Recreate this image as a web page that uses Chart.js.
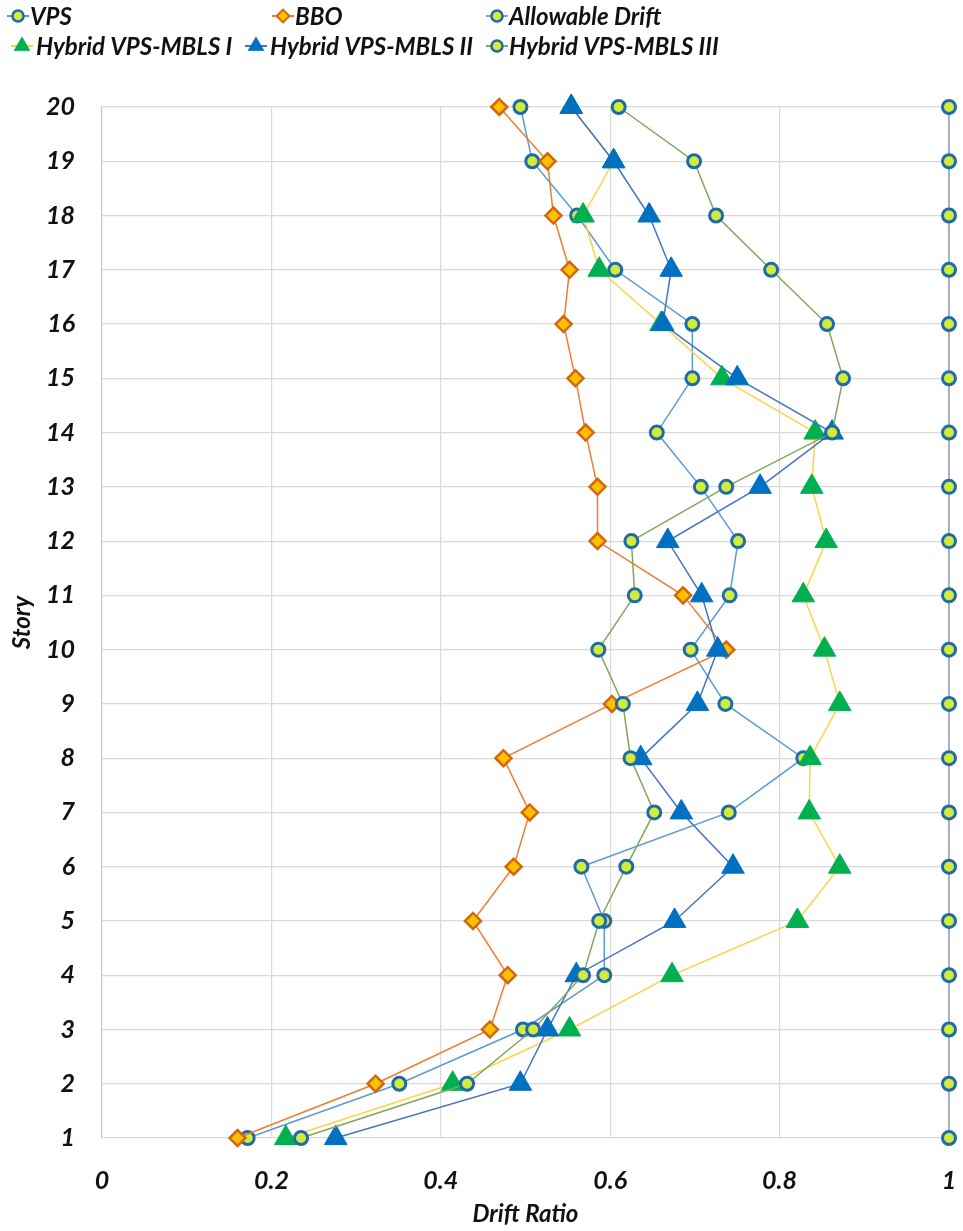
<!DOCTYPE html>
<html>
<head>
<meta charset="utf-8">
<script src="https://cdn.jsdelivr.net/npm/chart.js@4.4.1/dist/chart.umd.min.js"></script>
<style>
  html, body { margin: 0; padding: 0; background: #fff; }
  #wrap { width: 963px; height: 1231px; position: relative; }
</style>
</head>
<body>
<div id="wrap"><canvas id="driftChart" width="963" height="1231"></canvas></div>
<script>
// story numbers (y) and drift ratios
const stories = [1, 2, 3, 4, 5, 6, 7, 8, 9, 10, 11, 12, 13, 14, 15, 16, 17, 18, 19, 20];
const vps = [0.172, 0.351, 0.497, 0.593, 0.593, 0.566, 0.740, 0.828, 0.736, 0.695,
             0.741, 0.751, 0.707, 0.655, 0.697, 0.697, 0.606, 0.561, 0.508, 0.494];
const bbo = [0.160, 0.323, 0.458, 0.479, 0.438, 0.486, 0.505, 0.474, 0.602, 0.737,
             0.686, 0.585, 0.585, 0.571, 0.559, 0.545, 0.552, 0.533, 0.526, 0.469];
const allowable = [1, 1, 1, 1, 1, 1, 1, 1, 1, 1, 1, 1, 1, 1, 1, 1, 1, 1, 1, 1];
const hybrid1 = [0.217, 0.414, 0.552, 0.673, 0.821, 0.871, 0.835, 0.836, 0.871, 0.853,
                 0.828, 0.855, 0.838, 0.842, 0.732, 0.660, 0.587, 0.568, 0.604, 0.554];
const hybrid2 = [0.276, 0.494, 0.526, 0.560, 0.676, 0.745, 0.684, 0.636, 0.703, 0.727,
                 0.708, 0.668, 0.777, 0.862, 0.750, 0.662, 0.672, 0.646, 0.604, 0.554];
const hybrid3 = [0.235, 0.431, 0.509, 0.568, 0.587, 0.619, 0.652, 0.624, 0.615, 0.586,
                 0.629, 0.625, 0.737, 0.862, 0.875, 0.856, 0.790, 0.725, 0.699, 0.610];
const xTicks = [0, 0.2, 0.4, 0.6, 0.8, 1];

const FONT = "Lato, 'Open Sans', sans-serif";
const CIRCLE_FILL = '#d2ec3c';
const CIRCLE_EDGE = '#1f6aa8';

function pts(xs) {
  return xs.map((v, i) => ({ x: v, y: stories[i] }));
}

function circleSeries(label, xs, lineColor, order) {
  return {
    label: label, data: pts(xs), showLine: true, order: order, clip: false,
    borderColor: lineColor, borderWidth: 1.5,
    pointStyle: 'circle', pointRadius: 6.5, pointHoverRadius: 6.5,
    pointBackgroundColor: CIRCLE_FILL, pointBorderColor: CIRCLE_EDGE, pointBorderWidth: 3
  };
}

function triSeries(label, xs, lineColor, fill, order) {
  return {
    label: label, data: pts(xs), showLine: true, order: order, clip: false,
    borderColor: lineColor, borderWidth: 1.5,
    pointStyle: 'triangle', pointRadius: 13, pointHoverRadius: 13,
    pointBackgroundColor: fill, pointBorderColor: fill, pointBorderWidth: 1
  };
}

const datasets = [
  circleSeries('VPS', vps, '#5b9bd5', 6),
  {
    label: 'BBO', data: pts(bbo), showLine: true, order: 5, clip: false,
    borderColor: '#ed7d31', borderWidth: 1.5,
    pointStyle: 'rectRot', pointRadius: 8, pointHoverRadius: 8,
    pointBackgroundColor: '#ffc000', pointBorderColor: '#d2670f', pointBorderWidth: 2.5
  },
  circleSeries('Allowable Drift', allowable, '#8e9db5', 4),
  triSeries('Hybrid VPS-MBLS I', hybrid1, '#ffd347', '#00b050', 3),
  triSeries('Hybrid VPS-MBLS II', hybrid2, '#4472c4', '#0070c0', 2),
  circleSeries('Hybrid VPS-MBLS III', hybrid3, '#7fa85a', 1)
];

// legend placed like the original two-row, three-column layout
const legendSlots = [
  { ds: 0, mx: 18, tx: 30, y: 16 },
  { ds: 1, mx: 283, tx: 295, y: 16 },
  { ds: 2, mx: 497, tx: 509, y: 16 },
  { ds: 3, mx: 22, tx: 36, y: 46 },
  { ds: 4, mx: 256, tx: 270, y: 46 },
  { ds: 5, mx: 497, tx: 509, y: 46 }
];

function drawMarker(ctx, ds, x, y, scale) {
  const r = ds.pointRadius * scale;
  ctx.save();
  ctx.fillStyle = ds.pointBackgroundColor;
  ctx.strokeStyle = ds.pointBorderColor;
  ctx.lineWidth = ds.pointBorderWidth * scale;
  ctx.beginPath();
  if (ds.pointStyle === 'circle') {
    ctx.arc(x, y, r, 0, Math.PI * 2);
  } else if (ds.pointStyle === 'rectRot') {
    ctx.moveTo(x, y - r); ctx.lineTo(x + r, y); ctx.lineTo(x, y + r); ctx.lineTo(x - r, y);
  } else {
    for (let k = 0; k < 3; k++) {
      const a = k * 2 * Math.PI / 3;
      const px = x + Math.sin(a) * r, py = y - Math.cos(a) * r;
      if (k === 0) ctx.moveTo(px, py); else ctx.lineTo(px, py);
    }
  }
  ctx.closePath();
  ctx.fill();
  ctx.stroke();
  ctx.restore();
}

const legendPlugin = {
  id: 'fixedLegend',
  afterDraw(chart) {
    const ctx = chart.ctx;
    ctx.save();
    ctx.font = 'italic bold 24px ' + FONT;
    ctx.textBaseline = 'middle';
    legendSlots.forEach(s => {
      const ds = chart.data.datasets[s.ds];
      ctx.strokeStyle = ds.borderColor;
      ctx.lineWidth = 2;
      ctx.beginPath();
      ctx.moveTo(s.mx - 11, s.y);
      ctx.lineTo(s.mx + 11, s.y);
      ctx.stroke();
      const sc = ds.pointStyle === 'triangle' ? 0.7 : (ds.pointStyle === 'rectRot' ? 0.8 : 0.85);
      drawMarker(ctx, ds, s.mx, s.y, sc);
      ctx.fillStyle = '#111';
      ctx.fillText(ds.label, s.tx, s.y + 1);
    });
    ctx.restore();
  }
};

const ctx = document.getElementById('driftChart').getContext('2d');
new Chart(ctx, {
  type: 'scatter',
  data: { datasets: datasets },
  plugins: [legendPlugin],
  options: {
    responsive: false,
    animation: false,
    layout: { padding: { top: 107, right: 13, left: 0, bottom: 0 } },
    plugins: { legend: { display: false }, tooltip: { enabled: false } },
    elements: { line: { tension: 0 } },
    scales: {
      x: {
        type: 'linear', min: 0, max: 1,
        afterBuildTicks: (axis) => { axis.ticks = xTicks.map(v => ({ value: v })); },
        afterFit: (axis) => {
          axis.height = 93;
          axis.paddingLeft = 0;
          axis.paddingRight = 0;
        },
        ticks: {
          color: '#111', padding: 28,
          font: { family: FONT, size: 25, style: 'italic', weight: 'bold' },
          callback: (v) => String(Math.round(v * 10) / 10)
        },
        grid: { color: '#d9d9d9', lineWidth: 1.2, drawTicks: false },
        border: { display: false },
        title: {
          display: true, text: 'Drift Ratio', color: '#111', padding: { top: 0, bottom: 2 },
          font: { family: FONT, size: 24, style: 'italic', weight: 'bold' }
        }
      },
      y: {
        type: 'linear', min: 1, max: 20,
        afterFit: (axis) => { axis.width = 102; },
        ticks: {
          stepSize: 1, color: '#111', padding: 27,
          font: { family: FONT, size: 25, style: 'italic', weight: 'bold' }
        },
        grid: { color: '#d9d9d9', lineWidth: 1.2, drawTicks: false },
        border: { display: true, color: '#c8c8c8', width: 1.2 },
        title: {
          display: true, text: 'Story', color: '#111', padding: { top: 8, bottom: 0 },
          font: { family: FONT, size: 24, style: 'italic', weight: 'bold' }
        }
      }
    }
  }
});
</script>
</body>
</html>
